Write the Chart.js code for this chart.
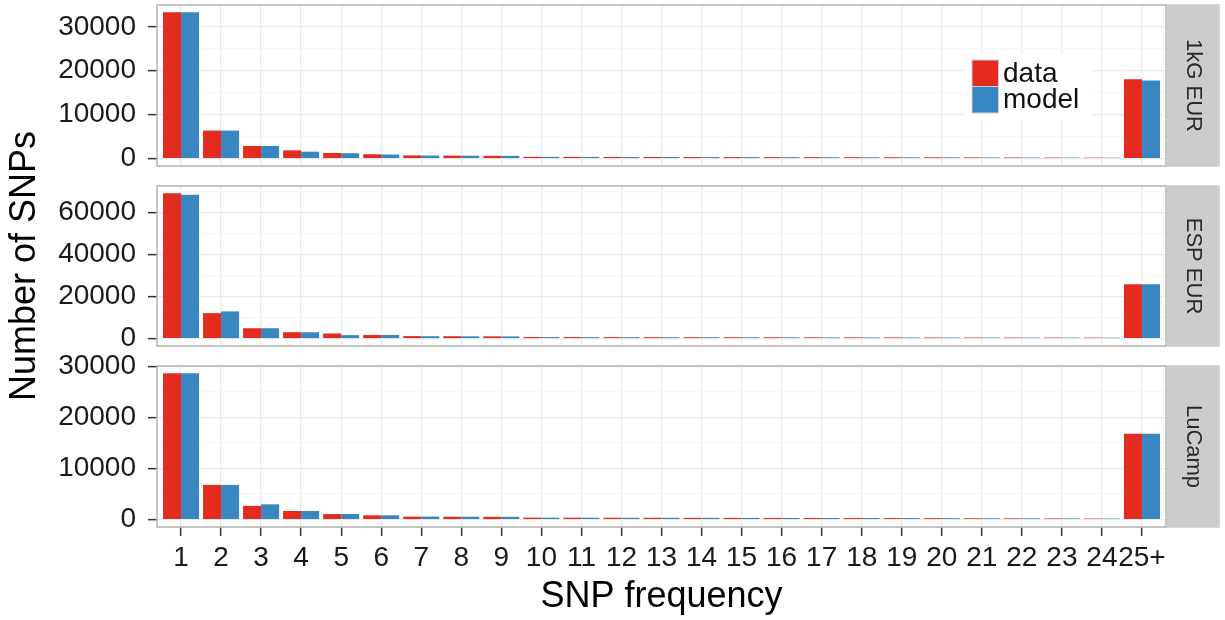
<!DOCTYPE html>
<html>
<head>
<meta charset="utf-8">
<script src="https://cdn.jsdelivr.net/npm/chart.js@4.4.1/dist/chart.umd.min.js"></script>
<style>
  body { margin: 0; background: #fff; }
  #wrap { position: relative; width: 1225px; height: 620px; }
  canvas { position: absolute; left: 0; top: 0; }
</style>
</head>
<body>
<div id="wrap">
  <canvas id="p1" width="1225" height="620"></canvas>
  <canvas id="p2" width="1225" height="620"></canvas>
  <canvas id="p3" width="1225" height="620"></canvas>
</div>
<script>
const categories = ['1','2','3','4','5','6','7','8','9','10','11','12','13','14','15','16','17','18','19','20','21','22','23','24','25+'];
const seriesNames = ['data', 'model'];
const panelNames = ['1kG EUR', 'ESP EUR', 'LuCamp'];

const kgData   = [33300, 6400, 2900, 1900, 1300, 1000, 750, 700, 650, 420, 410, 400, 390, 380, 370, 360, 350, 340, 330, 320, 300, 280, 260, 240, 18100];
const kgModel  = [33300, 6400, 2900, 1600, 1250, 950, 720, 680, 640, 410, 400, 390, 380, 370, 360, 350, 340, 330, 320, 310, 290, 270, 250, 230, 17800];
const espData  = [69200, 12200, 5000, 3100, 2500, 1800, 1250, 1200, 1150, 800, 780, 760, 740, 720, 700, 680, 660, 640, 620, 600, 580, 560, 540, 520, 25900];
const espModel = [68500, 13000, 5000, 3100, 1700, 1800, 1200, 1150, 1100, 790, 770, 750, 730, 710, 690, 670, 650, 630, 610, 590, 570, 550, 530, 510, 25900];
const lucData  = [28600, 6800, 2700, 1700, 1100, 850, 600, 580, 560, 400, 390, 380, 370, 360, 350, 340, 330, 320, 310, 300, 280, 260, 240, 220, 16800];
const lucModel = [28600, 6800, 3000, 1700, 1100, 850, 600, 580, 560, 400, 390, 380, 370, 360, 350, 340, 330, 320, 310, 300, 280, 260, 240, 220, 16800];

const kgTicks  = [0, 10000, 20000, 30000];
const espTicks = [0, 20000, 40000, 60000];
const lucTicks = [0, 10000, 20000, 30000];

const xTitle = 'SNP frequency';
const yTitle = 'Number of SNPs';

const RED = '#E42B20';
const BLUE = '#3987C1';
const FONT = '"Liberation Sans", Arial, sans-serif';
Chart.defaults.font.family = FONT;

// border, facet strip, legend and axis titles
const facetPlugin = {
  id: 'facet',
  afterDatasetsDraw(chart, args, opts) {
    const ctx = chart.ctx;
    const a = chart.chartArea;
    ctx.save();
    ctx.strokeStyle = '#b3b3b3';
    ctx.lineWidth = 1.5;
    ctx.strokeRect(a.left, a.top, a.right - a.left, a.bottom - a.top);
    ctx.fillStyle = '#cccccc';
    ctx.fillRect(a.right + 0.75, a.top - 0.75, 53, a.bottom - a.top + 1.5);
    ctx.translate(a.right + 27, (a.top + a.bottom) / 2);
    ctx.rotate(Math.PI / 2);
    ctx.fillStyle = '#2a2a2a';
    ctx.font = '22px ' + FONT;
    ctx.textAlign = 'center';
    ctx.textBaseline = 'middle';
    ctx.fillText(opts.text, 0, 0);
    ctx.restore();

    if (opts.legend) {
      const lx = a.right - 194, ly = a.top + 55, k = 26.5;
      ctx.save();
      ctx.fillStyle = '#fff';
      ctx.fillRect(lx - 6, ly - 7, 126, 67);
      [RED, BLUE].forEach((c, i) => {
        ctx.fillStyle = c;
        ctx.fillRect(lx, ly + i * k, k, k);
        ctx.strokeStyle = '#cfcfcf';
        ctx.lineWidth = 1;
        ctx.strokeRect(lx, ly + i * k, k, k);
        ctx.fillStyle = '#111';
        ctx.font = '28px ' + FONT;
        ctx.textBaseline = 'middle';
        ctx.fillText(seriesNames[i], lx + 31, ly + i * k + k / 2 + 1);
      });
      ctx.restore();
    }

    if (opts.titles) {
      ctx.save();
      ctx.fillStyle = '#000';
      ctx.font = '36px ' + FONT;
      ctx.textAlign = 'center';
      ctx.textBaseline = 'middle';
      ctx.fillText(xTitle, (a.left + a.right) / 2, 597);
      ctx.translate(25, 266);
      ctx.rotate(-Math.PI / 2);
      ctx.fillText(yTitle, 0, 0);
      ctx.restore();
    }
  }
};

function makePanel(id, name, dataVals, modelVals, majors, top, bottom, showX, legend) {
  const ymax = Math.max(...dataVals, ...modelVals);
  const step = majors[1] - majors[0];
  const xH = showX ? 40 : 0;
  return new Chart(document.getElementById(id), {
    type: 'bar',
    data: {
      datasets: [
        { label: seriesNames[0], data: dataVals.map((v, i) => ({ x: i + 1, y: v })),
          backgroundColor: RED, borderWidth: 0, categoryPercentage: 0.9, barPercentage: 1 },
        { label: seriesNames[1], data: modelVals.map((v, i) => ({ x: i + 1, y: v })),
          backgroundColor: BLUE, borderWidth: 0, categoryPercentage: 0.9, barPercentage: 1 }
      ]
    },
    options: {
      responsive: false,
      animation: false,
      devicePixelRatio: 1,
      layout: { padding: { top: top, bottom: 620 - bottom - xH, left: 0, right: 59 } },
      plugins: {
        legend: { display: false },
        tooltip: { enabled: false },
        facet: { text: name, legend: legend, titles: showX }
      },
      scales: {
        x: {
          type: 'linear',
          min: 0.4,
          max: categories.length + 0.6,
          offset: false,
          afterBuildTicks: s => { s.ticks = categories.map((c, i) => ({ value: i + 1 })); },
          afterFit: s => { s.height = xH; s.paddingLeft = 0; s.paddingRight = 0; },
          ticks: {
            display: showX, autoSkip: false, maxRotation: 0, padding: 5,
            font: { size: 28 }, color: '#1a1a1a',
            callback: v => categories[v - 1] ?? ''
          },
          grid: { color: '#ebebeb', lineWidth: 1.3, offset: false, drawTicks: showX,
                  tickLength: 9, tickColor: '#333', tickWidth: 1.5 },
          border: { display: false }
        },
        y: {
          min: -0.05 * ymax,
          max: 1.05 * ymax,
          afterBuildTicks: s => {
            const t = [];
            for (let v = 0; v <= s.max; v += step / 2) t.push({ value: v });
            s.ticks = t;
          },
          afterFit: s => { s.width = 157; s.paddingTop = 0; s.paddingBottom = 0; },
          ticks: {
            autoSkip: false, padding: 12, font: { size: 28 }, color: '#1a1a1a',
            callback: v => majors.includes(v) ? String(v) : ''
          },
          grid: {
            color: c => majors.includes(c.tick.value) ? '#ebebeb' : '#f6f6f6',
            lineWidth: 1.3,
            tickLength: 9,
            tickColor: c => majors.includes(c.tick.value) ? '#333' : 'rgba(0,0,0,0)',
            tickWidth: 1.5
          },
          border: { display: false }
        }
      }
    },
    plugins: [facetPlugin]
  });
}

makePanel('p1', panelNames[0], kgData, kgModel, kgTicks, 5, 166, false, true);
makePanel('p2', panelNames[1], espData, espModel, espTicks, 186, 346, false, false);
makePanel('p3', panelNames[2], lucData, lucModel, lucTicks, 366, 527, true, false);
</script>
</body>
</html>
